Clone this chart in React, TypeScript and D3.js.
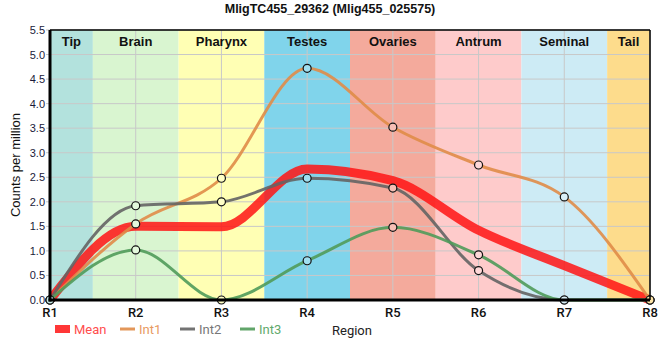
import React from "react";
import * as d3 from "d3";

const regionsX = ["R1", "R2", "R3", "R4", "R5", "R6", "R7", "R8"];
const meanVals = [0, 1.5, 1.49, 2.67, 2.43, 1.42, 0.7, 0];
const int1Vals = [0, 1.55, 2.48, 4.72, 3.52, 2.75, 2.1, 0];
const int2Vals = [0, 1.92, 2.0, 2.48, 2.28, 0.6, 0, 0];
const int3Vals = [0, 1.02, 0, 0.8, 1.48, 0.92, 0, 0];
const yTicks = [0, 0.5, 1, 1.5, 2, 2.5, 3, 3.5, 4, 4.5, 5, 5.5];
const bandNames = ["Tip", "Brain", "Pharynx", "Testes", "Ovaries", "Antrum", "Seminal", "Tail"];
const bandStart = [0, 0.5, 1.5, 2.5, 3.5, 4.5, 5.5, 6.5];
const bandEnd = [0.5, 1.5, 2.5, 3.5, 4.5, 5.5, 6.5, 7];
const bandColors = ["#b3e2dd", "#d9f5d0", "#ffffb4", "#80d4eb", "#f4aa9c", "#fecbcb", "#cdebf5", "#fddc8c"];

const series = [
  { name: "Mean", vals: meanVals, color: "rgba(255,20,20,0.85)", width: 9, points: false, text: "#ff4d4d" },
  { name: "Int1", vals: int1Vals, color: "rgba(224,140,72,0.9)", width: 3, points: true, text: "#e89a62" },
  { name: "Int2", vals: int2Vals, color: "rgba(100,100,100,0.9)", width: 3, points: true, text: "#777777" },
  { name: "Int3", vals: int3Vals, color: "rgba(80,155,90,0.9)", width: 3, points: true, text: "#62a96c" },
];

export default function App() {
  const W = 660, H = 360;
  const left = 50, right = 650, top = 30, bottom = 300;
  const x = d3.scaleLinear().domain([0, 7]).range([left, right]);
  const y = d3.scaleLinear().domain([0, 5.5]).range([bottom, top]);
  const line = d3
    .line<number>()
    .x((_, i) => x(i))
    .y((d) => y(d))
    .curve(d3.curveMonotoneX);

  const bandAt = (i: number) => {
    let k = 0;
    bandStart.forEach((s, j) => {
      if (i >= s) k = j;
    });
    return bandColors[k];
  };

  const legendX = [55, 120, 180, 240];

  return (
    <svg width={W} height={H} style={{ position: "absolute", left: 0, top: 0 }}>
      <rect width={W} height={H} fill="white" />
      <text x={330} y={13} textAnchor="middle" fontFamily="Liberation Sans, Arial" fontWeight="bold" fontSize={12.5} fill="#111">
        MligTC455_29362 (Mlig455_025575)
      </text>
      <defs>
        <clipPath id="plotclip">
          <rect x={left} y={top} width={right - left} height={bottom - top + 4} />
        </clipPath>
      </defs>
      {bandNames.map((n, i) => (
        <rect key={n} x={x(bandStart[i])} y={top} width={x(bandEnd[i]) - x(bandStart[i])} height={bottom - top} fill={bandColors[i]} />
      ))}
      {yTicks.map((t) => (
        <line key={"gy" + t} x1={left - 4} x2={right} y1={y(t)} y2={y(t)} stroke="#c8c8c8" strokeWidth={1} />
      ))}
      {regionsX.map((r, i) => (
        <line key={"gx" + r} x1={x(i)} x2={x(i)} y1={top} y2={bottom} stroke="#c8c8c8" strokeWidth={1} />
      ))}
      {bandNames.map((n, i) => (
        <text key={"bl" + n} x={(x(bandStart[i]) + x(bandEnd[i])) / 2} y={46} textAnchor="middle" fontFamily="Liberation Sans, Arial" fontWeight="bold" fontSize={13} fill="#111">
          {n}
        </text>
      ))}
      <g clipPath="url(#plotclip)">
        {series.map((s) => (
          <path key={s.name} d={line(s.vals) || ""} fill="none" stroke={s.color} strokeWidth={s.width} strokeLinejoin="round" />
        ))}
      </g>
      {series
        .filter((s) => s.points)
        .map((s) =>
          s.vals.map((v, i) => (
            <circle
              key={s.name + i}
              cx={x(i)}
              cy={y(v)}
              r={4}
              fill={d3.interpolateRgb(bandAt(i), "white")(0.25)}
              stroke="#111"
              strokeWidth={1.2}
            />
          ))
        )}
      <line x1={left} x2={right} y1={top} y2={top} stroke="#000" strokeWidth={1.5} />
      <line x1={right} x2={right} y1={top} y2={bottom} stroke="#000" strokeWidth={1.5} />
      <line x1={left} x2={left} y1={top} y2={bottom + 1.5} stroke="#000" strokeWidth={3} />
      <line x1={left - 1.5} x2={right} y1={bottom} y2={bottom} stroke="#000" strokeWidth={3} />
      {yTicks.map((t) => (
        <text key={"ty" + t} x={left - 5} y={y(t) + 4} textAnchor="end" fontFamily="Liberation Sans, Arial" fontSize={11} fill="#1a1a3a">
          {t.toFixed(1)}
        </text>
      ))}
      {regionsX.map((r, i) => (
        <text key={"tx" + r} x={x(i)} y={317} textAnchor="middle" fontFamily="Roboto" fontWeight={500} fontSize={13} fill="#111">
          {r}
        </text>
      ))}
      <text transform={`translate(20,${(top + bottom) / 2}) rotate(-90)`} textAnchor="middle" fontFamily="Liberation Sans, Arial" fontSize={13} fill="#111">
        Counts per million
      </text>
      <text x={332} y={335} fontFamily="Roboto" fontSize={13} fill="#222">
        Region
      </text>
      {series.map((s, k) => (
        <g key={"lg" + s.name}>
          {k === 0 ? (
            <rect x={legendX[k]} y={325} width={15} height={8} fill={s.color} />
          ) : (
            <line x1={legendX[k]} x2={legendX[k] + 15} y1={329} y2={329} stroke={s.color} strokeWidth={3} />
          )}
          <text x={legendX[k] + 19} y={334} fontFamily="Roboto" fontSize={13} fill={s.text}>
            {s.name}
          </text>
        </g>
      ))}
    </svg>
  );
}
